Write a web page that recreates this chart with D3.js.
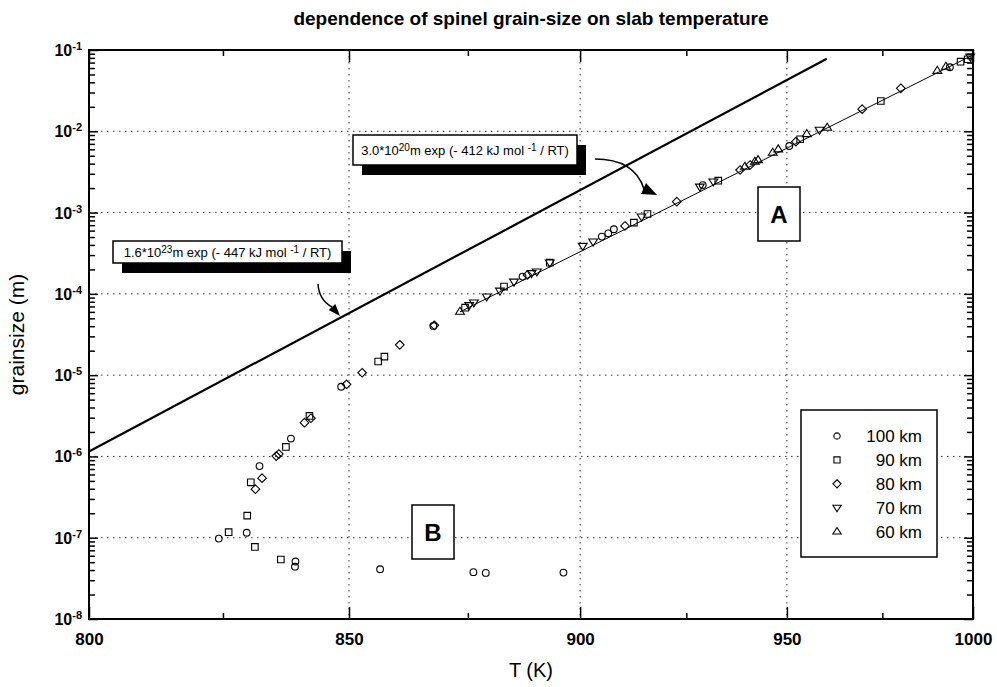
<!DOCTYPE html>
<html lang="en">
<head>
<meta charset="UTF-8">
<title>spinel grain-size</title>
<style>
	body { margin: 0; background: #fff; }
	svg { font-family: "Liberation Sans", Arial, Helvetica, sans-serif; }
</style>
</head>
<body>
<script src="https://cdn.jsdelivr.net/npm/d3@7"></script>
<script>
	// temperature axis ticks (K) and grain size decades
	var tempTicks = [800, 850, 900, 950, 1000];
	var tempMinor = [825, 875, 925, 975];
	var decades = [-8, -7, -6, -5, -4, -3, -2, -1];

	var depths = ["100 km", "90 km", "80 km", "70 km", "60 km"];

	// [T (K), grain size (m)]
	var km100 = [
		[824.2, 9.75e-8], [829.6, 1.15e-7], [832.1, 7.6e-7], [838.3, 1.66e-6],
		[839.2, 5.1e-8], [839.1, 4.4e-8], [848.4, 7.2e-6], [856.4, 4.1e-8],
		[867.6, 4.03e-5], [876.2, 3.77e-8], [878.9, 3.69e-8], [896.2, 3.72e-8],
		[887.0, 1.63e-4], [905.0, 5.06e-4], [906.5, 5.56e-4], [907.8, 6.24e-4],
		[929.0, 2.18e-3], [950.6, 6.59e-3], [993.5, 6.13e-2]
	];
	var km90 = [
		[826.1, 1.17e-7], [829.7, 1.87e-7], [830.4, 4.8e-7], [831.2, 7.7e-8],
		[836.3, 5.4e-8], [837.3, 1.31e-6], [842.0, 3.15e-6], [856.0, 1.47e-5],
		[857.3, 1.69e-5], [874.4, 6.76e-5], [882.9, 1.23e-4], [893.1, 2.42e-4],
		[912.5, 7.52e-4], [915.7, 9.6e-4], [932.8, 2.47e-3], [953.4, 7.98e-3],
		[974.6, 2.36e-2], [996.5, 7.18e-2], [998.5, 7.7e-2]
	];
	var km80 = [
		[831.3, 3.95e-7], [832.6, 5.4e-7], [835.4, 1.01e-6], [835.9, 1.07e-6],
		[841.0, 2.6e-6], [842.3, 2.95e-6], [849.5, 7.7e-6], [852.7, 1.07e-5],
		[860.5, 2.36e-5], [867.8, 4.1e-5], [888.1, 1.71e-4], [910.4, 6.84e-4],
		[922.7, 1.36e-3], [938.2, 3.34e-3], [940.7, 3.85e-3], [952.3, 7.45e-3],
		[969.6, 1.87e-2], [980.0, 3.38e-2]
	];
	var km70 = [
		[875.3, 7.24e-5], [876.3, 7.8e-5], [879.1, 9.25e-5], [882.0, 1.09e-4],
		[885.1, 1.41e-4], [889.0, 1.79e-4], [890.2, 1.88e-4], [893.1, 2.42e-4],
		[900.6, 3.88e-4], [903.0, 4.38e-4], [914.3, 8.9e-4], [928.3, 2.08e-3],
		[931.6, 2.40e-3], [958.4, 1.04e-2], [999.2, 8.28e-2]
	];
	var km60 = [
		[873.3, 6.04e-5], [939.4, 3.67e-3], [941.9, 4.23e-3], [942.7, 4.43e-3],
		[946.4, 5.46e-3], [947.8, 6.01e-3], [955.1, 9.27e-3], [960.4, 1.11e-2],
		[990.0, 5.56e-2], [992.4, 6.24e-2]
	];

	// end points of the two straight (Arrhenius) lines
	var fitB = [[800, 1.15e-6], [960.3, 0.078]];
	var fitA = [[873.3, 6.0e-5], [1000, 0.087]];

	var width = 997, height = 687,
		plotLeft = 89, plotRight = 973, plotTop = 50, plotBottom = 619;

	// x axis is linear in 1/T
	var x = d3.scaleLinear()
				.domain([1 / 800, 1 / 1000])
				.range([plotLeft, plotRight]);
	var y = d3.scaleLog()
				.domain([1e-8, 1e-1])
				.range([plotBottom, plotTop]);
	function xT(t) { return x(1 / t); }

	var svg = d3.select("body").append("svg")
		.attr("width", width)
		.attr("height", height);

	// marker shapes
	function shape(type, s) {
		if (type == "circle") {
			var r = s * 0.42;
			return "M" + r + ",0A" + r + "," + r + " 0 1,1 " + (-r) + ",0A" + r + "," + r + " 0 1,1 " + r + ",0Z";
		}
		if (type == "square") {
			var h = s * 0.41;
			return "M" + (-h) + "," + (-h) + "H" + h + "V" + h + "H" + (-h) + "Z";
		}
		if (type == "diamond") {
			var d = s * 0.54;
			return "M0," + (-d) + "L" + d + ",0L0," + d + "L" + (-d) + ",0Z";
		}
		var a = s * 0.55, b = s * 0.55, c = s * 0.33;
		if (type == "up") return "M0," + (-a) + "L" + b + "," + c + "L" + (-b) + "," + c + "Z";
		return "M0," + a + "L" + b + "," + (-c) + "L" + (-b) + "," + (-c) + "Z";
	}

	var series = [
		{name: depths[0], data: km100, type: "circle"},
		{name: depths[1], data: km90, type: "square"},
		{name: depths[2], data: km80, type: "diamond"},
		{name: depths[3], data: km70, type: "down"},
		{name: depths[4], data: km60, type: "up"}
	];

	// title
	svg.append("text")
		.attr("x", (plotLeft + plotRight) / 2)
		.attr("y", 25)
		.attr("text-anchor", "middle")
		.attr("font-size", "19px")
		.attr("font-weight", "bold")
		.text("dependence of spinel grain-size on slab temperature");

	// grid
	var grid = svg.append("g")
		.attr("stroke", "#333")
		.attr("stroke-width", 1)
		.attr("stroke-dasharray", "1.5,4.5");
	grid.selectAll("line.v")
		.data(tempTicks.slice(1, -1))
		.enter().append("line")
		.attr("x1", xT).attr("x2", xT)
		.attr("y1", plotTop).attr("y2", plotBottom);
	grid.selectAll("line.h")
		.data(decades.slice(1, -1))
		.enter().append("line")
		.attr("x1", plotLeft).attr("x2", plotRight)
		.attr("y1", function(e) { return y(Math.pow(10, e)); })
		.attr("y2", function(e) { return y(Math.pow(10, e)); });

	// axes
	function tidy(g) {
		g.select(".domain").remove();
		g.selectAll(".tick line").attr("stroke", "#000").attr("stroke-width", 1.5);
	}
	var minorY = [];
	decades.slice(0, -1).forEach(function(e) {
		for (var k = 2; k < 10; k++) minorY.push(k * Math.pow(10, e));
	});
	var decadeVals = decades.map(function(e) { return Math.pow(10, e); });
	var inv = function(t) { return 1 / t; };

	svg.append("g")
		.attr("transform", "translate(0," + plotBottom + ")")
		.call(d3.axisBottom(x)
			.tickValues(tempTicks.map(inv))
			.tickSize(-12)
			.tickPadding(14)
			.tickFormat(function(d) { return Math.round(1 / d); }))
		.call(tidy)
		.selectAll("text")
			.attr("font-family", "Liberation Sans, Arial, sans-serif")
			.attr("font-size", "17px")
			.attr("font-weight", "bold")
			.attr("fill", "#000");
	svg.append("g")
		.attr("transform", "translate(0," + plotBottom + ")")
		.call(d3.axisBottom(x).tickValues(tempMinor.map(inv)).tickSize(-6).tickFormat(""))
		.call(tidy);
	svg.append("g")
		.attr("transform", "translate(0," + plotTop + ")")
		.call(d3.axisTop(x).tickValues(tempTicks.map(inv)).tickSize(-12).tickFormat(""))
		.call(tidy);
	svg.append("g")
		.attr("transform", "translate(0," + plotTop + ")")
		.call(d3.axisTop(x).tickValues(tempMinor.map(inv)).tickSize(-6).tickFormat(""))
		.call(tidy);

	svg.append("g")
		.attr("transform", "translate(" + plotLeft + ",0)")
		.call(d3.axisLeft(y).tickValues(decadeVals).tickSize(-9).tickFormat(""))
		.call(tidy);
	svg.append("g")
		.attr("transform", "translate(" + plotLeft + ",0)")
		.call(d3.axisLeft(y).tickValues(minorY).tickSize(-6).tickFormat(""))
		.call(tidy);
	svg.append("g")
		.attr("transform", "translate(" + plotRight + ",0)")
		.call(d3.axisRight(y).tickValues(decadeVals).tickSize(-9).tickFormat(""))
		.call(tidy);
	svg.append("g")
		.attr("transform", "translate(" + plotRight + ",0)")
		.call(d3.axisRight(y).tickValues(minorY).tickSize(-6).tickFormat(""))
		.call(tidy);

	// y tick labels 10^e
	var ylab = svg.append("g").selectAll("text")
		.data(decades)
		.enter().append("text")
		.attr("x", plotLeft - 7)
		.attr("y", function(e) { return y(Math.pow(10, e)) + 6; })
		.attr("text-anchor", "end")
		.attr("font-size", "16px")
		.attr("font-weight", "bold");
	ylab.append("tspan").text("10");
	ylab.append("tspan")
		.attr("dy", -6)
		.attr("font-size", "11px")
		.text(function(e) { return e; });

	// frame
	svg.append("rect")
		.attr("x", plotLeft).attr("y", plotTop)
		.attr("width", plotRight - plotLeft).attr("height", plotBottom - plotTop)
		.attr("fill", "none")
		.attr("stroke", "#000")
		.attr("stroke-width", 2);

	// axis titles
	svg.append("text")
		.attr("x", (plotLeft + plotRight) / 2)
		.attr("y", 677)
		.attr("text-anchor", "middle")
		.attr("font-size", "20px")
		.text("T (K)");
	svg.append("text")
		.attr("transform", "translate(24," + ((plotTop + plotBottom) / 2) + ") rotate(-90)")
		.attr("text-anchor", "middle")
		.attr("font-size", "21px")
		.text("grainsize (m)");

	// lines
	var line = d3.line()
		.x(function(d) { return xT(d[0]); })
		.y(function(d) { return y(d[1]); });
	svg.append("path")
		.attr("d", line(fitB))
		.attr("fill", "none")
		.attr("stroke", "#000")
		.attr("stroke-width", 2.2);
	svg.append("path")
		.attr("d", line(fitA))
		.attr("fill", "none")
		.attr("stroke", "#000")
		.attr("stroke-width", 1);

	// points
	series.forEach(function(s) {
		svg.append("g").selectAll("path")
			.data(s.data)
			.enter().append("path")
			.attr("transform", function(d) { return "translate(" + xT(d[0]) + "," + y(d[1]) + ")"; })
			.attr("d", shape(s.type, 8))
			.attr("fill", "none")
			.attr("stroke", "#000")
			.attr("stroke-width", 1.1);
	});

	// annotation boxes with shadow
	function note(bx, by, bw, bh, pre, sup1, mid, sup2, post, fs) {
		svg.append("rect")
			.attr("x", bx + 9).attr("y", by + 10)
			.attr("width", bw).attr("height", bh)
			.attr("fill", "#000");
		svg.append("rect")
			.attr("x", bx).attr("y", by)
			.attr("width", bw).attr("height", bh)
			.attr("fill", "#fff")
			.attr("stroke", "#000")
			.attr("stroke-width", 1.5);
		var t = svg.append("text")
			.attr("x", bx + bw / 2)
			.attr("y", by + bh / 2 + fs * 0.36)
			.attr("text-anchor", "middle")
			.attr("font-size", fs + "px");
		t.append("tspan").text(pre);
		t.append("tspan").attr("dy", -4).attr("font-size", (fs - 3) + "px").text(sup1);
		t.append("tspan").attr("dy", 4).text(mid);
		t.append("tspan").attr("dy", -4).attr("font-size", (fs - 3) + "px").text(sup2);
		t.append("tspan").attr("dy", 4).text(post);
	}
	note(113, 241, 229, 22, "1.6*10", "23", "m exp (- 447 kJ mol ", "-1", " / RT)", 13);
	note(353, 135, 224, 30, "3.0*10", "20", "m exp (- 412 kJ mol ", "-1", " / RT)", 13);

	// curved arrows
	svg.append("path")
		.attr("d", "M318,284 Q319,300 332,307")
		.attr("fill", "none").attr("stroke", "#000").attr("stroke-width", 1.5);
	svg.append("path")
		.attr("d", "M340,316 L328.7,310 L335.3,304 Z")
		.attr("fill", "#000");
	svg.append("path")
		.attr("d", "M595,159 C622,159 638,170 644,189")
		.attr("fill", "none").attr("stroke", "#000").attr("stroke-width", 1.5);
	svg.append("path")
		.attr("d", "M657,195 L641,194 L646,183 Z")
		.attr("fill", "#000");

	// A and B labels
	function letter(bx, by, s) {
		svg.append("rect")
			.attr("x", bx).attr("y", by)
			.attr("width", 42).attr("height", 54)
			.attr("fill", "#fff")
			.attr("stroke", "#000")
			.attr("stroke-width", 1.5);
		svg.append("text")
			.attr("x", bx + 21).attr("y", by + 36)
			.attr("text-anchor", "middle")
			.attr("font-size", "24px")
			.attr("font-weight", "bold")
			.text(s);
	}
	letter(758, 187, "A");
	letter(412, 505, "B");

	// legend
	var lg = svg.append("g");
	lg.append("rect")
		.attr("x", 801).attr("y", 410)
		.attr("width", 136).attr("height", 147)
		.attr("fill", "#fff")
		.attr("stroke", "#000")
		.attr("stroke-width", 1.5);
	var row = lg.selectAll("g.row")
		.data(series)
		.enter().append("g")
		.attr("transform", function(d, i) { return "translate(0," + (436 + i * 23.9) + ")"; });
	row.append("path")
		.attr("transform", "translate(837,0)")
		.attr("d", function(d) { return shape(d.type, 7.5); })
		.attr("fill", "none")
		.attr("stroke", "#000")
		.attr("stroke-width", 1.1);
	row.append("text")
		.attr("x", 922).attr("y", 6)
		.attr("text-anchor", "end")
		.attr("font-size", "17px")
		.text(function(d) { return d.name; });
</script>
</body>
</html>
